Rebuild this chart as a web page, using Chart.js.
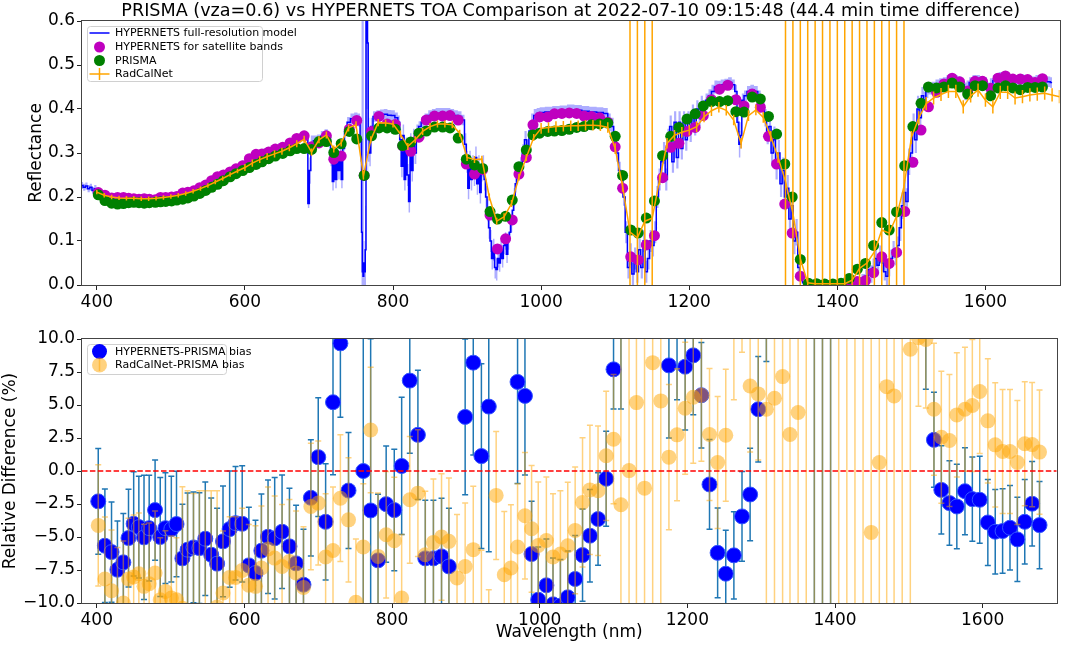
<!DOCTYPE html>
<html>
<head>
<meta charset="utf-8">
<title>PRISMA vs HYPERNETS TOA Comparison</title>
<script src="https://cdn.jsdelivr.net/npm/chart.js@4.4.0/dist/chart.umd.min.js"></script>
<style>
  body { margin: 0; background: #fff; }
  #wrap { position: relative; width: 1065px; height: 649px; }
  .pane { position: absolute; left: 0; width: 1065px; }
</style>
</head>
<body>
<div id="wrap">
  <div class="pane" style="top:0;height:310px"><canvas id="topChart" width="1065" height="310"></canvas></div>
  <div class="pane" style="top:310px;height:339px"><canvas id="bottomChart" width="1065" height="339"></canvas></div>
</div>
<script>
// ---- data ----
const titleText = 'PRISMA (vza=0.6) vs HYPERNETS TOA Comparison at 2022-07-10 09:15:48 (44.4 min time difference)';
const xTicks = [400, 600, 800, 1000, 1200, 1400, 1600];
const reflTicks = [0, 0.1, 0.2, 0.3, 0.4, 0.5, 0.6];
const diffTicks = [-10, -7.5, -5, -2.5, 0, 2.5, 5, 7.5, 10];
const zeroLevel = 0;

// HYPERNETS full-resolution model (nm, reflectance, uncertainty)
const modelWl = [
  380, 383, 386, 389, 392, 395, 398, 401, 405, 410,
  415, 420, 425, 430, 440, 450, 460, 470, 480, 490,
  500, 510, 520, 530, 540, 550, 560, 570, 580, 590,
  600, 610, 620, 630, 640, 650, 660, 670, 680, 684,
  686, 688, 690, 695, 700, 705, 710, 714, 717, 719,
  721, 723, 725, 727, 729, 731, 733, 736, 740, 745,
  750, 754, 757, 758, 759, 760, 761, 762, 763, 764,
  765, 766, 767, 769, 771, 775, 780, 785, 790, 795,
  800, 805, 808, 810, 812, 814, 816, 818, 820, 822,
  824, 826, 828, 830, 833, 836, 840, 845, 850, 855,
  860, 865, 870, 875, 880, 885, 890, 895, 898, 900,
  902, 904, 906, 908, 910, 912, 914, 916, 918, 920,
  922, 924, 926, 928, 930, 932, 934, 936, 938, 940,
  942, 944, 946, 948, 950, 952, 954, 956, 958, 960,
  962, 964, 966, 968, 970, 973, 976, 979, 982, 985,
  988, 992, 996, 1000, 1010, 1020, 1030, 1040, 1050, 1060,
  1070, 1080, 1088, 1092, 1096, 1100, 1103, 1106, 1109, 1112,
  1115, 1118, 1121, 1124, 1127, 1130, 1133, 1136, 1139, 1142,
  1145, 1148, 1151, 1154, 1157, 1160, 1163, 1166, 1169, 1172,
  1175, 1178, 1181, 1184, 1187, 1190, 1193, 1196, 1199, 1202,
  1205, 1208, 1211, 1214, 1217, 1220, 1224, 1228, 1232, 1236,
  1240, 1245, 1250, 1255, 1260, 1263, 1266, 1268, 1270, 1272,
  1276, 1280, 1285, 1290, 1295, 1298, 1300, 1303, 1306, 1309,
  1312, 1315, 1318, 1321, 1324, 1327, 1330, 1333, 1336, 1339,
  1342, 1345, 1348, 1351, 1355, 1360, 1370, 1380, 1390, 1400,
  1410, 1420, 1425, 1430, 1435, 1440, 1443, 1446, 1449, 1452,
  1455, 1458, 1461, 1464, 1467, 1470, 1473, 1476, 1479, 1482,
  1485, 1488, 1491, 1494, 1497, 1500, 1503, 1506, 1509, 1512,
  1515, 1518, 1521, 1525, 1530, 1535, 1540, 1545, 1550, 1555,
  1560, 1565, 1570, 1573, 1576, 1580, 1585, 1590, 1595, 1600,
  1604, 1608, 1612, 1616, 1620, 1625, 1630, 1635, 1640, 1645,
  1650, 1655, 1660, 1665, 1670, 1675, 1680, 1685, 1690
];
const modelRefl = [
  .226, .222, .225, .219, .222, .215, .219, .212, .209, .205,
  .202, .200, .200, .199, .198, .197, .197, .197, .198, .200,
  .201, .204, .209, .214, .221, .230, .243, .250, .257, .265,
  .275, .287, .296, .302, .308, .314, .322, .332, .340, .337,
  .185, .260, .320, .328, .330, .338, .342, .335, .290, .235,
  .280, .240, .300, .260, .300, .240, .310, .350, .370, .378,
  .380, .375, .330, .120, .030, .020, .050, .030, .080, .600,
  .700, .550, .330, .300, .360, .383, .385, .387, .388, .386,
  .385, .380, .370, .330, .270, .340, .240, .310, .250, .190,
  .320, .260, .330, .300, .350, .360, .370, .378, .385, .388,
  .390, .390, .390, .390, .388, .385, .383, .375, .320, .280,
  .220, .280, .240, .270, .250, .290, .230, .270, .210, .260,
  .270, .240, .200, .170, .130, .100, .060, .080, .040, .035,
  .060, .050, .080, .060, .090, .100, .070, .100, .120, .140,
  .170, .200, .230, .250, .260, .270, .300, .330, .310, .350,
  .370, .385, .390, .392, .393, .395, .396, .398, .397, .395,
  .393, .392, .390, .370, .360, .330, .300, .260, .240, .200,
  .120, .040, .070, .025, .060, .030, .080, .040, .100, .030,
  .060, .100, .090, .120, .200, .240, .280, .300, .240, .330,
  .360, .280, .370, .290, .370, .310, .370, .330, .370, .350,
  .390, .360, .400, .380, .410, .400, .420, .430, .440, .450,
  .452, .455, .457, .460, .455, .440, .370, .320, .340, .420,
  .430, .440, .443, .440, .430, .420, .400, .380, .340, .360,
  .300, .330, .270, .300, .230, .260, .200, .220, .150, .180,
  .100, .120, .040, .020, .005, .002, .001, .001, .001, .001,
  .002, .003, .005, .010, .015, .020, .035, .025, .040, .060,
  .045, .070, .050, .030, .020, .040, .060, .080, .065, .090,
  .130, .180, .210, .190, .280, .300, .360, .330, .400, .380,
  .430, .420, .440, .445, .450, .455, .458, .460, .465, .468,
  .465, .462, .455, .440, .450, .460, .465, .465, .463, .460,
  .445, .455, .465, .470, .472, .470, .468, .466, .465, .466,
  .467, .465, .463, .462, .465, .466, .464, .462, .460
];
const modelUnc = [
  .008, .008, .008, .008, .008, .008, .008, .008, .008, .008,
  .006, .006, .006, .006, .006, .006, .006, .006, .006, .006,
  .006, .006, .006, .006, .006, .006, .006, .006, .006, .006,
  .008, .008, .008, .008, .008, .008, .008, .008, .008, .008,
  .010, .030, .020, .012, .012, .012, .012, .012, .020, .020,
  .020, .020, .020, .020, .020, .020, .020, .012, .012, .012,
  .012, .015, .050, .600, .600, .600, .050, .050, .100, .300,
  .300, .300, .050, .030, .020, .012, .012, .012, .012, .012,
  .012, .012, .015, .025, .025, .025, .025, .025, .025, .025,
  .025, .025, .025, .025, .015, .012, .012, .012, .012, .012,
  .012, .012, .012, .012, .012, .012, .012, .012, .025, .025,
  .025, .025, .025, .025, .025, .025, .025, .025, .025, .025,
  .025, .025, .025, .025, .025, .025, .025, .025, .025, .025,
  .020, .020, .020, .020, .020, .020, .020, .020, .020, .020,
  .020, .020, .020, .020, .020, .020, .020, .020, .020, .020,
  .020, .015, .012, .012, .012, .012, .012, .012, .012, .012,
  .012, .012, .012, .020, .020, .020, .020, .020, .020, .020,
  .025, .025, .025, .025, .025, .025, .025, .025, .025, .025,
  .025, .025, .025, .025, .025, .025, .025, .025, .025, .025,
  .025, .025, .025, .025, .025, .025, .025, .025, .025, .025,
  .020, .020, .020, .020, .020, .020, .015, .015, .015, .015,
  .012, .012, .012, .012, .012, .015, .030, .030, .030, .015,
  .012, .012, .012, .012, .012, .012, .020, .020, .020, .020,
  .030, .030, .030, .030, .030, .030, .030, .030, .030, .030,
  .030, .030, .020, .010, .005, .003, .003, .003, .003, .003,
  .003, .004, .005, .008, .010, .015, .020, .020, .020, .020,
  .020, .020, .020, .020, .020, .020, .020, .020, .020, .020,
  .030, .030, .030, .030, .030, .030, .030, .030, .030, .030,
  .020, .020, .015, .012, .012, .012, .012, .012, .012, .012,
  .012, .012, .012, .020, .015, .012, .012, .012, .012, .012,
  .015, .015, .012, .012, .012, .012, .012, .012, .012, .012,
  .012, .012, .012, .012, .012, .012, .012, .012, .012
];

// PRISMA band centres (nm)
const bandWl = [
  402, 411, 420, 428, 436, 443, 450, 457, 464, 471,
  479, 486, 493, 501, 508, 516, 523, 531, 539, 547,
  555, 563, 571, 580, 588, 597, 606, 615, 623, 632,
  641, 651, 661, 670, 680, 690, 700, 710, 720, 730,
  741, 751, 761, 771, 781, 792, 803, 813, 824, 835,
  845, 856, 867, 877, 888, 899, 910, 921, 931, 941,
  952, 961, 970, 980, 989, 998, 1009, 1018, 1028, 1038,
  1048, 1058, 1068, 1079, 1090, 1100, 1110, 1121, 1131, 1142,
  1153, 1164, 1175, 1186, 1197, 1208, 1219, 1230, 1241, 1252,
  1263, 1274, 1285, 1296, 1307, 1318, 1329, 1339, 1350, 1361,
  1372, 1383, 1394, 1405, 1416, 1427, 1438, 1449, 1460, 1470,
  1480, 1491, 1502, 1513, 1523, 1534, 1544, 1555, 1565, 1576,
  1586, 1596, 1607, 1617, 1627, 1637, 1647, 1657, 1667, 1677
];
// HYPERNETS convolved to the satellite bands
const hypBand = [
  .210, .204, .198, .199, .199, .197, .196, .195, .196, .195,
  .194, .199, .199, .200, .201, .209, .211, .214, .221, .227,
  .237, .246, .250, .257, .264, .271, .287, .297, .298, .302,
  .309, .313, .323, .333, .339, .314, .323, .339, .286, .293,
  .354, .374, .249, .349, .383, .366, .365, .316, .304, .336,
  .375, .384, .384, .385, .375, .275, .252, .262, .159, .082,
  .105, .148, .252, .290, .364, .382, .382, .389, .390, .391,
  .390, .384, .383, .380, .370, .314, .220, .064, .057, .091,
  .112, .244, .313, .322, .349, .358, .385, .421, .445, .454,
  .421, .407, .434, .404, .338, .275, .184, .118, .020, .002,
  .001, .001, .001, .002, .008, .008, .010, .028, .064, .049,
  .074, .167, .279, .352, .405, .438, .457, .470, .462, .441,
  .463, .463, .447, .470, .475, .468, .468, .467, .460, .469
];
// PRISMA TOA reflectance
const prisma = [
  .205, .192, .186, .184, .185, .187, .188, .187, .186, .187,
  .188, .189, .190, .191, .193, .195, .198, .202, .208, .215,
  .222, .229, .237, .246, .253, .260, .267, .274, .280, .287,
  .293, .299, .305, .310, .310, .308, .326, .326, .301, .321,
  .349, .332, .249, .339, .357, .357, .354, .317, .325, .345,
  .350, .359, .359, .357, .334, .286, .273, .265, .167, .150,
  .156, .193, .269, .307, .341, .345, .349, .350, .351, .354,
  .358, .360, .364, .366, .368, .338, .249, .125, .118, .152,
  .191, .294, .338, .358, .377, .389, .407, .417, .417, .419,
  .394, .393, .427, .423, .383, .343, .275, .200, .058, .004,
  .003, .002, .002, .004, .015, .036, .049, .090, .142, .125,
  .166, .271, .360, .413, .450, .448, .450, .459, .450, .434,
  .453, .453, .430, .448, .453, .448, .444, .449, .449, .450
];

// RadCalNet (10 nm grid)
const rcnWl = [
  400, 410, 420, 430, 440, 450, 460, 470, 480, 490,
  500, 510, 520, 530, 540, 550, 560, 570, 580, 590,
  600, 610, 620, 630, 640, 650, 660, 670, 680, 690,
  700, 710, 720, 730, 740, 750, 760, 770, 780, 790,
  800, 810, 820, 830, 840, 850, 860, 870, 880, 890,
  900, 910, 920, 930, 940, 950, 960, 970, 980, 990,
  1000, 1010, 1020, 1030, 1040, 1050, 1060, 1070, 1080, 1090,
  1100, 1110, 1120, 1130, 1140, 1150, 1160, 1170, 1180, 1190,
  1200, 1210, 1220, 1230, 1240, 1250, 1260, 1270, 1280, 1290,
  1300, 1310, 1320, 1330, 1340, 1350, 1360, 1370, 1380, 1390,
  1400, 1410, 1420, 1430, 1440, 1450, 1460, 1470, 1480, 1490,
  1500, 1510, 1520, 1530, 1540, 1550, 1560, 1570, 1580, 1590,
  1600, 1610, 1620, 1630, 1640, 1650, 1660, 1670, 1680, 1690,
  1700
];
const rcn = [
  .211, .204, .200, .198, .197, .197, .196, .196, .197, .199,
  .201, .204, .208, .213, .219, .226, .234, .242, .251, .259,
  .267, .277, .285, .292, .298, .304, .312, .321, .331, .302,
  .330, .341, .309, .323, .357, .364, .248, .330, .369, .368,
  .366, .343, .315, .330, .349, .360, .366, .366, .364, .345,
  .290, .285, .286, .200, .145, .155, .185, .245, .290, .335,
  .356, .358, .360, .361, .362, .362, .363, .363, .362, .358,
  .310, .224, .120, .107, .145, .152, .239, .322, .340, .347,
  .352, .360, .382, .396, .404, .397, .375, .322, .385, .398,
  .381, .338, .290, .235, .163, .060, .005, .003, .003, .003,
  .003, .003, .011, .038, .050, .075, .125, .118, .156, .224,
  .335, .380, .412, .425, .433, .440, .440, .405, .430, .443,
  .420, .405, .438, .438, .425, .428, .432, .434, .436, .432,
  .428
];
const rcnErr = [
  .005, .005, .005, .005, .005, .005, .005, .005, .005, .005,
  .005, .005, .005, .005, .005, .005, .005, .005, .005, .005,
  .008, .008, .008, .008, .008, .008, .008, .008, .008, .008,
  .008, .008, .008, .008, .008, .008, .008, .008, .008, .008,
  .008, .008, .008, .008, .008, .008, .008, .008, .008, .008,
  .008, .008, .008, .008, .008, .008, .008, .008, .008, .008,
  .012, .012, .012, .012, .012, .012, .012, .012, .012, .012,
  .012, .012, 1.0, 1.0, 1.0, 1.0, .012, .012, .012, .012,
  .012, .012, .012, .012, .012, .012, .012, .012, .012, .012,
  .012, .012, .012, 1.0, 1.0, 1.0, 1.0, 1.0, 1.0, 1.0,
  1.0, 1.0, 1.0, 1.0, 1.0, 1.0, 1.0, 1.0, 1.0, 1.0,
  .015, .015, .015, .015, .015, .015, .015, .015, .015, .015,
  .015, .015, .015, .015, .015, .015, .015, .015, .015, .015,
  .015
];

// relative differences (%) at the PRISMA bands
const biasHyp = [
  -2.3, -5.66, -6.14, -7.48, -6.92, -5.08, -4.0, -4.25, -5.03, -4.33,
  -2.96, -5.0, -4.33, -4.4, -4.02, -6.62, -5.96, -5.79, -5.84, -5.13,
  -6.34, -7.02, -5.33, -4.4, -3.95, -4.0, -7.15, -7.73, -6.04, -4.98,
  -5.1, -4.6, -5.71, -7.0, -8.61, -2.03, 1.05, -3.85, 5.21, 9.67,
  -1.48, -15, 0.0, -2.99, -6.77, -2.51, -2.96, 0.38, 6.85, 2.74,
  -6.62, -6.62, -6.47, -7.23, -13, 4.1, 8.21, 1.13, 4.88, 83,
  49, 30, 6.75, 5.69, -6.29, -9.75, -8.66, -10.1, -10.2, -9.57,
  -8.18, -6.37, -4.9, -3.64, -0.59, 7.7, 13, 95, 107, 67,
  70, 20, 8.0, 11.2, 7.9, 8.76, 5.74, -1.02, -6.2, -7.78,
  -6.39, -3.44, -1.78, 4.68, 13.3, 24.7, 49, 69, 190, 100,
  200, 100, 100, 100, 88, 350, 390, 220, 120, 155,
  124, 62, 29, 17, 11.2, 2.36, -1.43, -2.43, -2.69, -1.53,
  -2.13, -2.18, -3.9, -4.6, -4.55, -4.3, -5.18, -3.85, -2.48, -4.1
];
const biasHypErr = [
  4.0, 4.3, 3.8, 3.7, 3.7, 3.7, 3.95, 3.85, 4.7, 4.0,
  3.8, 4.5, 4.2, 4.0, 4.0, 4.1, 4.3, 4.2, 4.2, 4.3,
  4.3, 4.2, 4.2, 4.4, 4.3, 4.4, 4.4, 4.0, 4.3, 4.3,
  4.6, 4.3, 4.4, 4.4, 4.2, 4.4, 4.5, 4.4, 5.5, 5.6,
  4.4, 3.0, 12, 13, 5.0, 4.4, 4.6, 5.2, 5.5, 4.9,
  4.4, 4.4, 4.4, 4.4, 2.5, 5.9, 7.0, 7.0, 11, 10,
  10, 10, 7.7, 6.0, 4.0, 4.0, 3.5, 3.5, 3.5, 3.5,
  3.3, 3.5, 3.5, 3.5, 3.6, 3.0, 8.3, 20, 20, 20,
  20, 5, 5.5, 5.8, 4.8, 4.5, 4.0, 3.4, 3.4, 3.3,
  3.3, 3.4, 3.5, 4.0, 5.0, 6.0, 10, 15, 50, 60,
  400, 400, 400, 60, 40, 100, 100, 80, 50, 60,
  50, 20, 8, 5, 5, 3.6, 3.35, 3.2, 3.2, 3.3,
  3.2, 3.3, 3.25, 3.2, 3.2, 3.2, 3.2, 3.2, 3.2, 3.3
];
const biasRcn = [
  -4.12, -8.18, -9.07, -10.6, -10.0, -8.18, -8.03, -7.78, -8.74, -8.54,
  -7.73, -9.75, -9.12, -9.62, -9.75, -10.4, -10.8, -10.9, -11.0, -10.8,
  -10.6, -10.3, -9.24, -8.06, -8.06, -7.53, -8.66, -8.74, -7.35, -5.91,
  -6.6, -7.23, -6.85, -7.73, -8.82, -2.69, -2.43, -6.52, -6.02, -2.06,
  -3.7, -9.95, -5.76, 3.11, -6.47, -4.83, -5.28, -9.62, -2.18, -1.68,
  -6.34, -5.41, -5.0, -5.33, -8.1, -7.23, -5.96, -12, -14, -1.85,
  -7.86, -7.35, -5.76, -3.39, -4.38, -5.64, -5.26, -6.52, -6.29, -5.66,
  -4.5, -2.38, -1.43, -1.5, 1.15, 2.41, -2.56, 0.03, 5.18, -1.3,
  8.21, 5.31, 1.05, 2.74, 4.75, 5.59, 5.74, 2.76, 0.64, 2.71,
  12, 13, 6.44, 5.84, 4.68, 5.51, 7.15, 2.76, 4.43, 40,
  50, 50, 50, 40, 40, 40, 40, -4.65, 0.64, 6.39,
  5.69, 30, 9.22, 10.1, 9.97, 4.68, 2.56, 2.31, 4.25, 4.68,
  4.96, 6.02, 3.8, 1.98, 1.48, 1.48, 0.64, 2.06, 2.0, 1.43
];
const biasRcnErr = [
  4.6, 4.7, 4.6, 4.8, 4.7, 4.6, 4.7, 4.6, 4.7, 4.6,
  4.7, 4.7, 4.6, 4.7, 4.7, 9.2, 9.3, 9.2, 9.5, 9.3,
  9.1, 8.8, 4.7, 4.6, 4.6, 4.7, 4.6, 4.6, 4.7, 4.7,
  4.7, 4.7, 4.7, 4.7, 4.6, 4.8, 4.7, 4.8, 4.8, 4.8,
  4.7, 4.8, 4.8, 4.75, 4.8, 4.8, 4.8, 4.8, 4.8, 4.8,
  4.8, 4.8, 4.8, 4.8, 4.8, 4.8, 4.8, 6.0, 5.0, 4.85,
  4.8, 4.8, 4.8, 4.8, 4.8, 4.8, 4.8, 4.8, 4.8, 4.8,
  4.8, 4.9, 4.9, 4.9, 4.9, 4.9, 40, 40, 40, 40,
  40, 40, 5.5, 5.0, 5.0, 5.0, 5.0, 5.0, 5.0, 5.0,
  6.6, 4.0, 5.0, 5.0, 40, 40, 40, 40, 40, 60,
  80, 80, 80, 60, 60, 60, 60, 40, 40, 40,
  40, 50, 40, 5.2, 5.2, 5.0, 5.0, 5.0, 4.7, 4.7,
  5.0, 4.7, 4.7, 4.7, 4.7, 4.7, 4.7, 4.7, 4.7, 4.7
];

// ---- helpers ----
const FONT = '"DejaVu Sans", sans-serif';
Chart.defaults.font.family = FONT;
Chart.defaults.font.size = 17;
Chart.defaults.color = '#000';

const pts = (xs, ys) => xs.map((x, i) => ({x: x, y: ys[i]}));
const fmtMinus = v => (v < 0 ? '\u2212' : '') + Math.abs(v).toFixed(1);

// vertical error bars, drawn just before the owning dataset
const errorBars = {
  id: 'errorBars',
  beforeDatasetDraw(chart, args) {
    const ds = chart.data.datasets[args.index];
    if (!ds.errors) return;
    const {ctx, chartArea: a} = chart;
    const xs = chart.scales.x, ys = chart.scales.y;
    ctx.save();
    ctx.beginPath();
    ctx.rect(a.left, a.top, a.right - a.left, a.bottom - a.top);
    ctx.clip();
    ctx.strokeStyle = ds.errColor;
    ctx.lineWidth = ds.errWidth;
    ds.data.forEach((p, i) => {
      const e = ds.errors[i];
      const x = xs.getPixelForValue(p.x);
      const lo = ys.getPixelForValue(p.y - e);
      const hi = ys.getPixelForValue(p.y + e);
      ctx.beginPath();
      ctx.moveTo(x, lo);
      ctx.lineTo(x, hi);
      if (ds.cap) {
        ctx.moveTo(x - ds.cap, lo); ctx.lineTo(x + ds.cap, lo);
        ctx.moveTo(x - ds.cap, hi); ctx.lineTo(x + ds.cap, hi);
      }
      ctx.stroke();
    });
    ctx.restore();
  }
};

// full box around the axes
const frame = {
  id: 'frame',
  afterDatasetsDraw(chart) {
    const {ctx, chartArea: a} = chart;
    ctx.save();
    ctx.strokeStyle = '#444';
    ctx.lineWidth = 1;
    ctx.strokeRect(Math.round(a.left) - 0.5, Math.round(a.top) - 0.5,
                   Math.round(a.right - a.left) + 1, Math.round(a.bottom - a.top) + 1);
    ctx.restore();
  }
};

const zeroLine = {
  id: 'zeroLine',
  afterDatasetsDraw(chart) {
    const {ctx, chartArea: a, scales: {y}} = chart;
    const py = y.getPixelForValue(zeroLevel);
    ctx.save();
    ctx.strokeStyle = 'red';
    ctx.lineWidth = 1.5;
    ctx.setLineDash([5.5, 2.4]);
    ctx.beginPath();
    ctx.moveTo(a.left, py);
    ctx.lineTo(a.right, py);
    ctx.stroke();
    ctx.restore();
  }
};

const mainTitle = {
  id: 'mainTitle',
  afterDraw(chart) {
    const {ctx, chartArea: a} = chart;
    ctx.save();
    ctx.font = '17.6px ' + FONT;
    ctx.fillStyle = '#000';
    ctx.textAlign = 'center';
    ctx.textBaseline = 'middle';
    ctx.fillText(titleText, (a.left + a.right) / 2, 11);
    ctx.restore();
  }
};

function roundRect(ctx, x, y, w, h, r) {
  ctx.beginPath();
  ctx.moveTo(x + r, y);
  ctx.arcTo(x + w, y, x + w, y + h, r);
  ctx.arcTo(x + w, y + h, x, y + h, r);
  ctx.arcTo(x, y + h, x, y, r);
  ctx.arcTo(x, y, x + w, y, r);
  ctx.closePath();
}

function dot(color, r) {
  return (ctx, x, y) => {
    ctx.fillStyle = color;
    ctx.beginPath(); ctx.arc(x, y, r, 0, Math.PI * 2); ctx.fill();
  };
}

// matplotlib-like legend placed in the upper left of the plot area
function insideLegend(id, w, h, rows) {
  return {
    id: id,
    afterDatasetsDraw(chart) {
      const {ctx, chartArea: a} = chart;
      const bx = a.left + 5, by = a.top + 5;
      ctx.save();
      roundRect(ctx, bx + 0.5, by + 0.5, w, h, 3);
      ctx.fillStyle = 'rgba(255,255,255,0.8)';
      ctx.fill();
      ctx.strokeStyle = '#d0d0d0';
      ctx.lineWidth = 1;
      ctx.stroke();
      ctx.font = '11px ' + FONT;
      ctx.textBaseline = 'middle';
      rows.forEach(r => {
        r.handle(ctx, bx + 12.5, by + r.dy);
        ctx.fillStyle = '#000';
        ctx.fillText(r.label, bx + 28, by + r.dy + 0.5);
      });
      ctx.restore();
    }
  };
}

const topLegend = insideLegend('topLegend', 175, 55, [
  {dy: 7, label: 'HYPERNETS full-resolution model', handle: (ctx, x, y) => {
    ctx.strokeStyle = 'blue'; ctx.lineWidth = 1.5;
    ctx.beginPath(); ctx.moveTo(x - 10, y); ctx.lineTo(x + 10, y); ctx.stroke();
  }},
  {dy: 21, label: 'HYPERNETS for satellite bands', handle: dot('#bf00bf', 5.5)},
  {dy: 34.5, label: 'PRISMA', handle: dot('#008000', 5.5)},
  {dy: 48, label: 'RadCalNet', handle: (ctx, x, y) => {
    ctx.strokeStyle = 'orange'; ctx.lineWidth = 1.5;
    ctx.beginPath();
    ctx.moveTo(x - 10, y); ctx.lineTo(x + 10, y);
    ctx.moveTo(x, y - 6); ctx.lineTo(x, y + 6);
    ctx.stroke();
  }}
]);

const bottomLegend = insideLegend('bottomLegend', 139, 30, [
  {dy: 7.5, label: 'HYPERNETS-PRISMA bias', handle: dot('blue', 7.5)},
  {dy: 21, label: 'RadCalNet-PRISMA bias', handle: (ctx, x, y) => {
    ctx.strokeStyle = 'rgba(255,165,0,0.5)'; ctx.lineWidth = 1.5;
    ctx.beginPath(); ctx.moveTo(x, y - 6); ctx.lineTo(x, y + 6); ctx.stroke();
    dot('rgba(255,165,0,0.5)', 7.5)(ctx, x, y);
  }}
]);

function xAxis(height, title) {
  return {
    type: 'linear', min: 380, max: 1700,
    afterBuildTicks: s => { s.ticks = xTicks.map(v => ({value: v})); },
    afterFit: s => { s.height = height; },
    ticks: {color: '#000', padding: 2, maxRotation: 0, autoSkip: false, font: {size: 17},
            callback: v => String(v)},
    grid: {drawOnChartArea: false, tickLength: 5, tickColor: '#222', tickWidth: 1},
    border: {display: false},
    title: title
  };
}

function yAxis(min, max, ticks, fmt, title) {
  return {
    min: min, max: max,
    afterBuildTicks: s => { s.ticks = ticks.map(v => ({value: v})); },
    afterFit: s => { s.width = 82; },
    ticks: {color: '#000', padding: 2, autoSkip: false, font: {size: 17}, callback: fmt},
    grid: {drawOnChartArea: false, tickLength: 5, tickColor: '#222', tickWidth: 1},
    border: {display: false},
    title: title
  };
}

const common = {
  responsive: false,
  animation: false,
  events: [],
  devicePixelRatio: 1,
  plugins: {legend: {display: false}, tooltip: {enabled: false}}
};

// ---- top panel: reflectance ----
new Chart(document.getElementById('topChart'), {
  type: 'scatter',
  data: {
    datasets: [
      {label: 'model upper', data: pts(modelWl, modelRefl.map((v, i) => v + modelUnc[i])),
       showLine: true, stepped: 'middle', borderColor: 'rgba(0,0,0,0)', borderWidth: 1,
       pointRadius: 0, fill: false, order: 6, clip: 0},
      {label: 'model lower', data: pts(modelWl, modelRefl.map((v, i) => v - modelUnc[i])),
       showLine: true, stepped: 'middle', borderColor: 'rgba(0,0,0,0)', borderWidth: 1,
       pointRadius: 0, fill: '-1', backgroundColor: 'rgba(0,0,255,0.32)', order: 5, clip: 0},
      {label: 'HYPERNETS full-resolution model', data: pts(modelWl, modelRefl),
       showLine: true, stepped: 'middle', borderColor: 'blue', borderWidth: 1.5,
       pointRadius: 0, order: 4, clip: 0},
      {label: 'HYPERNETS for satellite bands', data: pts(bandWl, hypBand),
       pointRadius: 5.5, backgroundColor: '#bf00bf', borderColor: '#bf00bf', borderWidth: 0,
       order: 3, clip: 0},
      {label: 'PRISMA', data: pts(bandWl, prisma),
       pointRadius: 5.5, backgroundColor: '#008000', borderColor: '#008000', borderWidth: 0,
       order: 2, clip: 0},
      {label: 'RadCalNet', data: pts(rcnWl, rcn),
       showLine: true, borderColor: 'orange', borderWidth: 1.5, pointRadius: 0,
       errors: rcnErr, errColor: 'orange', errWidth: 1.5, order: 1, clip: 0}
    ]
  },
  options: Object.assign({}, common, {
    layout: {padding: {left: 0, top: 21, right: 4, bottom: 0}},
    scales: {
      x: xAxis(25, {display: false}),
      y: yAxis(0, 0.6, reflTicks, v => v.toFixed(1),
               {display: true, text: 'Reflectance', font: {size: 17}, padding: {top: 26, bottom: 0}})
    }
  }),
  plugins: [errorBars, frame, topLegend, mainTitle]
});

// ---- bottom panel: relative difference ----
new Chart(document.getElementById('bottomChart'), {
  type: 'scatter',
  data: {
    datasets: [
      {label: 'RadCalNet-PRISMA bias', data: pts(bandWl, biasRcn),
       pointRadius: 7.5, backgroundColor: 'rgba(255,165,0,0.5)', borderWidth: 0,
       errors: biasRcnErr, errColor: 'rgba(255,165,0,0.5)', errWidth: 1.5, cap: 3,
       order: 1, clip: 0},
      {label: 'HYPERNETS-PRISMA bias', data: pts(bandWl, biasHyp),
       pointRadius: 7.5, backgroundColor: 'blue', borderColor: '#3355ff', borderWidth: 1,
       errors: biasHypErr, errColor: '#1f77b4', errWidth: 1.5, cap: 3,
       order: 2, clip: 0}
    ]
  },
  options: Object.assign({}, common, {
    layout: {padding: {left: 0, top: 29, right: 4, bottom: 0}},
    scales: {
      x: xAxis(46, {display: true, text: 'Wavelength (nm)', font: {size: 17}, padding: {top: 0, bottom: 6}}),
      y: yAxis(-10, 10, diffTicks, fmtMinus,
               {display: true, text: 'Relative Difference (%)', font: {size: 17}, padding: {top: 0, bottom: 0}})
    }
  }),
  plugins: [errorBars, zeroLine, frame, bottomLegend]
});
</script>
</body>
</html>
